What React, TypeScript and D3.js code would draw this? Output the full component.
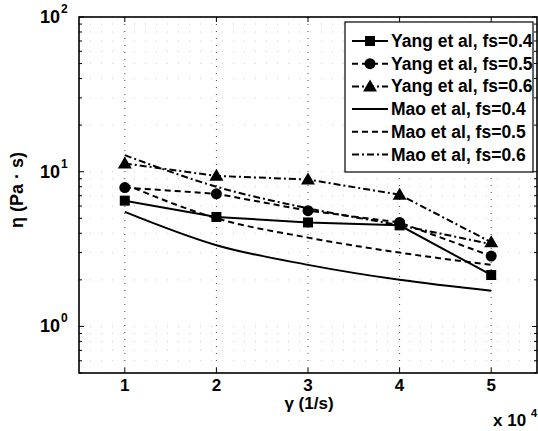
import * as d3 from "d3";

// shear rate (x 10^4 1/s)
const shearRate = [1, 2, 3, 4, 5];
const xTicks = [1, 2, 3, 4, 5];
const yMajor = [1, 10, 100];

// viscosity (Pa s)
const yang04 = [6.5, 5.1, 4.7, 4.5, 2.15];
const yang05 = [7.9, 7.2, 5.6, 4.7, 2.85];
const yang06 = [11.3, 9.4, 8.9, 7.1, 3.5];
const mao04 = [5.5, 3.35, 2.5, 2.0, 1.7];
const mao05 = [8.3, 5.0, 3.75, 3.0, 2.5];
const mao06 = [12.8, 8.0, 5.8, 4.5, 3.4];

const seriesNames = [
  "Yang et al, fs=0.4",
  "Yang et al, fs=0.5",
  "Yang et al, fs=0.6",
  "Mao et al, fs=0.4",
  "Mao et al, fs=0.5",
  "Mao et al, fs=0.6",
];

const FONT = "'Liberation Sans', Arial, Helvetica, sans-serif";

const series = [
  { name: seriesNames[0], values: yang04, dash: "none", marker: "square" },
  { name: seriesNames[1], values: yang05, dash: "6,4", marker: "circle" },
  { name: seriesNames[2], values: yang06, dash: "7,3,2,3", marker: "triangle" },
  { name: seriesNames[3], values: mao04, dash: "none", marker: "" },
  { name: seriesNames[4], values: mao05, dash: "6,4", marker: "" },
  { name: seriesNames[5], values: mao06, dash: "7,3,2,3", marker: "" },
];

const Marker = ({ type, x, y }: { type: string; x: number; y: number }) => {
  if (type === "square") return <rect x={x - 5} y={y - 5} width={10} height={10} fill="#000" />;
  if (type === "circle") return <circle cx={x} cy={y} r={5.5} fill="#000" />;
  if (type === "triangle")
    return <path d={`M${x},${y - 7}L${x + 7},${y + 5}L${x - 7},${y + 5}Z`} fill="#000" />;
  return null;
};

const App = () => {
  const width = 538,
    height = 431;
  const left = 79,
    right = 537,
    top = 17,
    bottom = 373;

  const x = d3.scaleLinear().domain([0.5, 5.5]).range([left, right]);
  const y = d3.scaleLog().domain([0.5, 100]).range([bottom, top]);

  const minorVals: number[] = [];
  [0.1, 1, 10].forEach((dec) => {
    for (let k = 2; k <= 9; k++) {
      const v = dec * k;
      if (v >= 0.5 && v < 100) minorVals.push(v);
    }
  });

  const line = d3
    .line<number>()
    .x((_, i) => x(shearRate[i]))
    .y((d) => y(d));

  const legendX = 345,
    legendY = 22,
    legendW = 188,
    rowH = 22.7;

  return (
    <svg width={width} height={height} style={{ position: "absolute", left: 0, top: 0, background: "#fff" }}>
      {/* grid */}
      {xTicks.map((t) => (
        <line key={"gx" + t} x1={x(t)} x2={x(t)} y1={top} y2={bottom} stroke="#444" strokeWidth={1} strokeDasharray="1,6" />
      ))}
      {yMajor.concat(minorVals).map((v) => (
        <line key={"gy" + v} x1={left} x2={right} y1={y(v)} y2={y(v)} stroke="#ccc" strokeWidth={1} strokeDasharray="1,10" />
      ))}

      {/* series */}
      {series.map((s) => (
        <g key={s.name}>
          <path
            d={s.marker ? line(s.values) || "" : line.curve(d3.curveMonotoneX)(s.values) || ""}
            fill="none"
            stroke="#000"
            strokeWidth={2}
            strokeDasharray={s.dash}
          />
          {s.values.map((v, i) => (
            <Marker key={i} type={s.marker} x={x(shearRate[i])} y={y(v)} />
          ))}
        </g>
      ))}

      {/* frame */}
      <rect x={left} y={top} width={right - left} height={bottom - top} fill="none" stroke="#000" strokeWidth={1.6} />

      {/* ticks */}
      {xTicks.map((t) => (
        <g key={"xt" + t}>
          <line x1={x(t)} x2={x(t)} y1={bottom} y2={bottom - 5} stroke="#000" />
          <line x1={x(t)} x2={x(t)} y1={top} y2={top + 5} stroke="#000" />
          <text x={x(t)} y={391} textAnchor="middle" fontFamily={FONT} fontSize={17} fontWeight="bold">
            {t}
          </text>
        </g>
      ))}
      {yMajor.map((v, i) => (
        <g key={"yt" + v}>
          <line x1={left} x2={left + 5} y1={y(v)} y2={y(v)} stroke="#000" />
          <line x1={right} x2={right - 5} y1={y(v)} y2={y(v)} stroke="#000" />
          <text x={60} y={y(v) + 6} textAnchor="end" fontFamily={FONT} fontSize={18} fontWeight="bold">
            10
          </text>
          <text x={61} y={y(v) - 4} textAnchor="start" fontFamily={FONT} fontSize={12} fontWeight="bold">
            {i}
          </text>
        </g>
      ))}
      {minorVals.map((v) => (
        <g key={"ym" + v}>
          <line x1={left} x2={left + 3} y1={y(v)} y2={y(v)} stroke="#000" />
          <line x1={right} x2={right - 3} y1={y(v)} y2={y(v)} stroke="#000" />
        </g>
      ))}

      {/* axis labels */}
      <text x={309} y={409} textAnchor="middle" fontFamily={FONT} fontSize={17} fontWeight="bold">
        γ (1/s)
      </text>
      <text x={493} y={426} fontFamily={FONT} fontSize={17} fontWeight="bold">
        x 10
      </text>
      <text x={531} y={417} fontFamily={FONT} fontSize={11} fontWeight="bold">
        4
      </text>
      <text
        transform={`translate(23,${(top + bottom) / 2 - 5}) rotate(-90)`}
        textAnchor="middle"
        fontFamily={FONT}
        fontSize={18}
        fontWeight="bold"
      >
        η (Pa · s)
      </text>

      {/* legend */}
      <rect x={legendX} y={legendY} width={legendW} height={150} fill="#fff" stroke="#000" strokeWidth={1.2} />
      {series.map((s, i) => {
        const cy = legendY + 19 + i * rowH;
        return (
          <g key={"lg" + i}>
            <line x1={352} x2={388} y1={cy} y2={cy} stroke="#000" strokeWidth={2} strokeDasharray={s.dash} />
            <Marker type={s.marker} x={370} y={cy} />
            <text x={391} y={cy + 6} fontFamily={FONT} fontSize={17.5} fontWeight="bold">
              {s.name}
            </text>
          </g>
        );
      })}
    </svg>
  );
};

export default App;
